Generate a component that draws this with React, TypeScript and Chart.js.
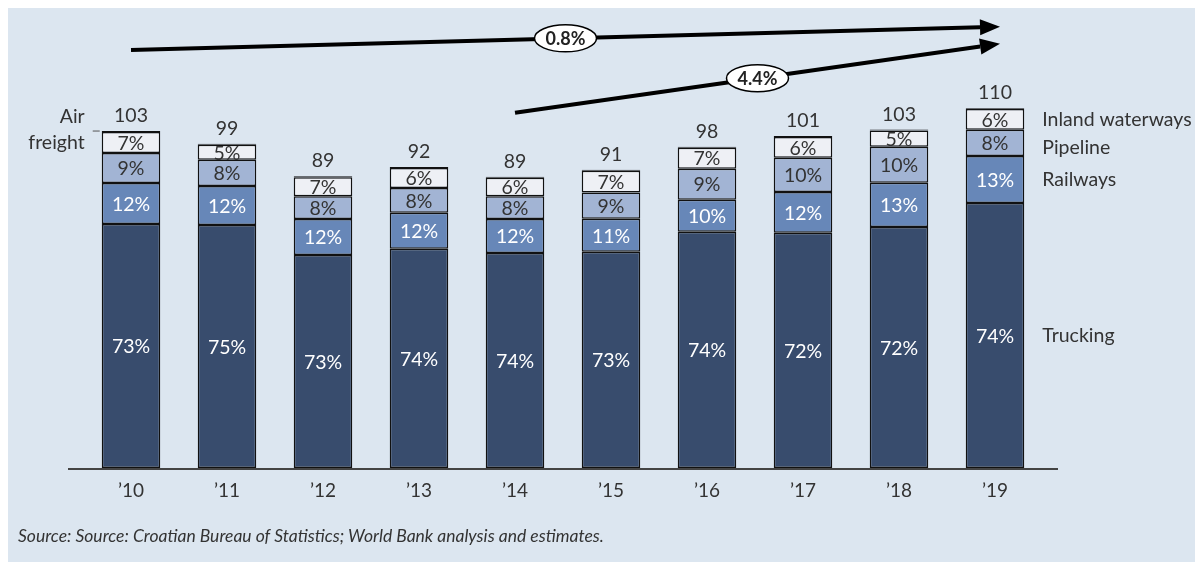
import React, { useEffect, useRef } from "react";
import { Chart, registerables } from "chart.js";

Chart.register(...registerables);

const years = ["’10", "’11", "’12", "’13", "’14", "’15", "’16", "’17", "’18", "’19"];
const totals = [103, 99, 89, 92, 89, 91, 98, 101, 103, 110];

// segment sizes
const trucking = [74.6, 74.3, 65.1, 67.0, 65.7, 66.1, 72.2, 71.9, 73.7, 81.0];
const railways = [12.5, 11.9, 11.0, 11.0, 10.4, 10.1, 9.8, 12.5, 13.5, 14.4];
const pipeline = [9.2, 8.0, 7.0, 7.6, 7.0, 8.0, 9.5, 10.4, 11.0, 8.0];
const waterways = [6.4, 4.6, 5.8, 6.1, 5.6, 6.7, 6.4, 6.4, 5.0, 6.3];
const airFreight = [0.3, 0.3, 0.3, 0.3, 0.3, 0.3, 0.3, 0.3, 0.3, 0.3];

// share labels
const truckingPct = ["73%", "75%", "73%", "74%", "74%", "73%", "74%", "72%", "72%", "74%"];
const railwaysPct = ["12%", "12%", "12%", "12%", "12%", "11%", "10%", "12%", "13%", "13%"];
const pipelinePct = ["9%", "8%", "8%", "8%", "8%", "9%", "9%", "10%", "10%", "8%"];
const waterwaysPct = ["7%", "5%", "7%", "6%", "6%", "7%", "7%", "6%", "5%", "6%"];

const seriesNames = ["Trucking", "Railways", "Pipeline", "Inland waterways"];

// growth arrows: [fromIndex, fromValue, toValue, label]
const arrowFrom = [0, 4];
const arrowFromY = [127.8, 108.6];
const arrowToY = [134.9, 129.7];
const arrowLabels = ["0.8%", "4.4%"];

const FONT = "Lato, 'Open Sans', sans-serif";
const TEXT = "#333333";
const LBL = 19.5;

export default function App() {
  const ref = useRef<HTMLCanvasElement | null>(null);

  useEffect(() => {
    if (!ref.current) return;
    const pctLabels = [truckingPct, railwaysPct, pipelinePct, waterwaysPct];
    const pctColors = ["#ffffff", "#ffffff", TEXT, TEXT];

    const plugin = {
      id: "annot",
      afterDatasetsDraw(chart: any) {
        const ctx = chart.ctx;
        const xs = chart.scales.x;
        const ys = chart.scales.y;
        ctx.save();
        // axis line
        ctx.strokeStyle = "#444";
        ctx.lineWidth = 2;
        ctx.beginPath();
        ctx.moveTo(chart.chartArea.left - 15, ys.getPixelForValue(0) + 1);
        ctx.lineTo(chart.chartArea.right + 15, ys.getPixelForValue(0) + 1);
        ctx.stroke();

        // segment labels
        ctx.font = `${LBL}px ${FONT}`;
        ctx.textAlign = "center";
        ctx.textBaseline = "middle";
        for (let d = 0; d < 4; d++) {
          const meta = chart.getDatasetMeta(d);
          meta.data.forEach((el: any, i: number) => {
            ctx.fillStyle = pctColors[d];
            ctx.fillText(pctLabels[d][i], el.x, (el.y + el.base) / 2 + 1);
          });
        }
        // totals
        const topMeta = chart.getDatasetMeta(4);
        topMeta.data.forEach((el: any, i: number) => {
          ctx.fillStyle = TEXT;
          ctx.fillText(String(totals[i]), el.x, el.y - 15);
        });

        // right side series names
        ctx.textAlign = "left";
        for (let d = 0; d < 4; d++) {
          const meta = chart.getDatasetMeta(d);
          const el: any = meta.data[meta.data.length - 1];
          const off = d === 2 ? 5 : 0;
          ctx.fillStyle = TEXT;
          ctx.fillText(seriesNames[d], el.x + el.width / 2 + 18, (el.y + el.base) / 2 + off);
        }

        // air freight callout
        const first: any = topMeta.data[0];
        const left = first.x - first.width / 2;
        ctx.textAlign = "right";
        ctx.fillText("Air", left - 17, first.y - 14);
        ctx.fillText("freight", left - 17, first.y + 12);
        ctx.strokeStyle = "#555";
        ctx.lineWidth = 1;
        ctx.beginPath();
        ctx.moveTo(left - 9, first.y);
        ctx.lineTo(left - 2, first.y);
        ctx.stroke();

        // arrows
        const lastX = xs.getPixelForValue(years.length - 1) + 5;
        for (let a = 0; a < arrowLabels.length; a++) {
          const x1 = xs.getPixelForValue(arrowFrom[a]);
          const y1 = ys.getPixelForValue(arrowFromY[a]);
          const x2 = lastX;
          const y2 = ys.getPixelForValue(arrowToY[a]);
          const ang = Math.atan2(y2 - y1, x2 - x1);
          const hl = 20;
          const hw = 8;
          ctx.strokeStyle = "#000";
          ctx.fillStyle = "#000";
          ctx.lineWidth = 4;
          ctx.beginPath();
          ctx.moveTo(x1, y1);
          ctx.lineTo(x2 - hl * Math.cos(ang), y2 - hl * Math.sin(ang));
          ctx.stroke();
          ctx.beginPath();
          ctx.moveTo(x2, y2);
          ctx.lineTo(x2 - hl * Math.cos(ang) + hw * Math.sin(ang), y2 - hl * Math.sin(ang) - hw * Math.cos(ang));
          ctx.lineTo(x2 - hl * Math.cos(ang) - hw * Math.sin(ang), y2 - hl * Math.sin(ang) + hw * Math.cos(ang));
          ctx.closePath();
          ctx.fill();
          const mx = (x1 + x2) / 2;
          const my = (y1 + y2) / 2;
          ctx.beginPath();
          ctx.ellipse(mx, my, 31, 13.5, 0, 0, Math.PI * 2);
          ctx.fillStyle = "#ffffff";
          ctx.fill();
          ctx.lineWidth = 1.5;
          ctx.strokeStyle = "#000";
          ctx.stroke();
          ctx.fillStyle = "#222";
          ctx.font = `bold 18px ${FONT}`;
          ctx.textAlign = "center";
          ctx.fillText(arrowLabels[a], mx, my + 1);
        }
        ctx.restore();
      },
    };

    const mk = (label: string, data: number[], color: string) => ({
      label,
      data,
      backgroundColor: color,
      borderColor: "#111111",
      borderWidth: 1.5,
      borderSkipped: false,
      barPercentage: 0.61,
      categoryPercentage: 1,
    });

    const chart = new Chart(ref.current, {
      type: "bar",
      data: {
        labels: years,
        datasets: [
          mk("Trucking", trucking, "#384c6d"),
          mk("Railways", railways, "#6787b8"),
          mk("Pipeline", pipeline, "#a2b4d4"),
          mk("Inland waterways", waterways, "#eef0f5"),
          mk("Air freight", airFreight, "#111111"),
        ],
      },
      options: {
        animation: false,
        responsive: false,
        layout: { padding: { left: 76, right: 158, top: 2, bottom: 49 } },
        plugins: { legend: { display: false }, tooltip: { enabled: false } },
        scales: {
          x: {
            stacked: true,
            grid: { display: false },
            border: { display: false },
            ticks: { font: { family: FONT, size: 19 }, color: TEXT, padding: 3 },
            afterFit: (s: any) => {
              s.height = 45;
            },
          },
          y: {
            stacked: true,
            display: false,
            min: 0,
            max: 140,
          },
        },
      },
      plugins: [plugin],
    } as any);
    return () => chart.destroy();
  }, []);

  return (
    <div
      style={{
        position: "relative",
        width: 1194,
        height: 554,
        marginLeft: -1,
        background: "#dce6f0",
      }}
    >
      <canvas ref={ref} width={1194} height={554} style={{ position: "absolute", left: 0, top: 0 }} />
      <div
        style={{
          position: "absolute",
          left: 11,
          top: 517,
          fontFamily: FONT,
          fontStyle: "italic",
          fontSize: 17.5,
          color: "#333",
        }}
      >
        Source: Source: Croatian Bureau of Statistics; World Bank analysis and estimates.
      </div>
    </div>
  );
}
